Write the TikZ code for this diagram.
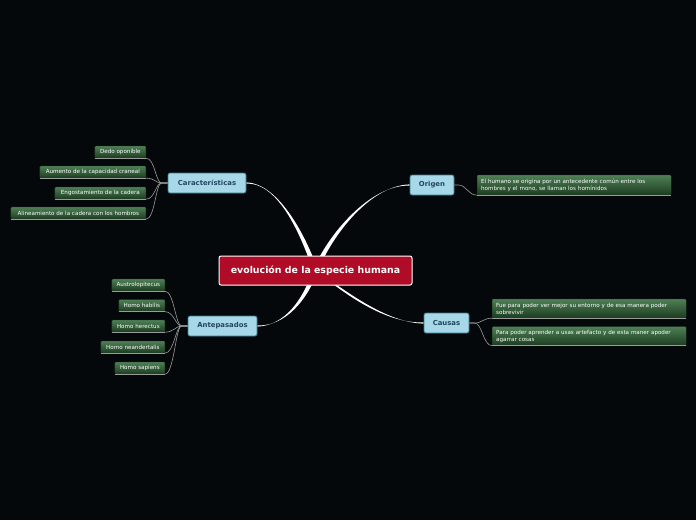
\documentclass[tikz,border=0pt]{standalone}
\usepackage{fontspec}
\setmainfont{DejaVu Sans}
\usetikzlibrary{calc}
\definecolor{bg}{HTML}{05080A}
\definecolor{rootred}{HTML}{B00C28}
\definecolor{topicblue}{HTML}{A6D8E8}
\definecolor{topicborder}{HTML}{3C7590}
\definecolor{topictext}{HTML}{24455F}
\definecolor{leaftop}{HTML}{4E8056}
\definecolor{leafbot}{HTML}{1C3C20}
\definecolor{connc}{HTML}{9A9A9A}
\tikzset{
  root/.style={draw=white, line width=1pt, fill=rootred, rounded corners=2pt, text=white,
    font=\bfseries\fontsize{9.4}{11}\selectfont, minimum width=193pt, minimum height=29pt, inner sep=0pt},
  topic/.style={draw=topicborder, line width=0.8pt, fill=topicblue, rounded corners=2pt, text=topictext,
    font=\bfseries\fontsize{6.9}{8}\selectfont, minimum height=20pt, inner sep=0pt},
  leaf/.style={top color=leaftop, bottom color=leafbot, draw=leafbot, line width=0.3pt, rounded corners=1pt, text=white,
    font=\fontsize{5.6}{7}\selectfont, minimum height=12pt, inner sep=0pt, align=left},
  conn/.style={draw=connc, line width=0.6pt},
  ul/.style={draw=connc, line width=1pt},
}
\begin{document}
\begin{tikzpicture}[x=1pt,y=-1pt]
\fill[bg] (0,0) rectangle (696,520);
\useasboundingbox (0,0) rectangle (696,520);

% invisible placement of main nodes (to get anchors)
\path
  node[root, draw=none, fill=none, text opacity=0] (root) at (315.5,270.5) {evolución de la especie humana}
  node[topic, draw=none, fill=none, text opacity=0, minimum width=78pt] (car) at (207,183) {Características}
  node[topic, draw=none, fill=none, text opacity=0, minimum width=44pt] (ori) at (432,185) {Origen}
  node[topic, draw=none, fill=none, text opacity=0, minimum width=69pt] (ant) at (222.5,326) {Antepasados}
  node[topic, draw=none, fill=none, text opacity=0, minimum width=45pt] (cau) at (446.5,323) {Causas};

% main branches (tapered)
\fill[white] ($(root.center)+(-2.5,0)$) .. controls (302.5,240) and (280,182.4) .. ([yshift=-0.6pt]car.east)
  -- ([yshift=0.6pt]car.east) .. controls (280,183.6) and (307.5,240) .. ($(root.center)+(2.5,0)$) -- cycle;
\fill[white] ($(root.center)+(-2.5,0)$) .. controls (327.5,235) and (370,184.4) .. ([yshift=-0.6pt]ori.west)
  -- ([yshift=0.6pt]ori.west) .. controls (370,185.6) and (332.5,235) .. ($(root.center)+(2.5,0)$) -- cycle;
\fill[white] ($(root.center)+(-2.5,0)$) .. controls (302.5,300) and (285,325.4) .. ([yshift=-0.6pt]ant.east)
  -- ([yshift=0.6pt]ant.east) .. controls (285,326.6) and (307.5,300) .. ($(root.center)+(2.5,0)$) -- cycle;
\fill[white] ($(root.center)+(-2,-1.5)$) .. controls (345,290) and (385,322.4) .. ([yshift=-0.6pt]cau.west)
  -- ([yshift=0.6pt]cau.west) .. controls (385,323.6) and (345,294) .. ($(root.center)+(2,1.5)$) -- cycle;

% visible main nodes on top
\node[root] at (root.center) {evolución de la especie humana};
\node[topic, minimum width=78pt] at (car.center) {Características};
\node[topic, minimum width=44pt] at (ori.center) {Origen};
\node[topic, minimum width=69pt] at (ant.center) {Antepasados};
\node[topic, minimum width=45pt] at (cau.center) {Causas};

% Características leaves
\node[leaf, anchor=east, minimum width=51pt] (c1) at (146,152) {Dedo oponible};
\node[leaf, anchor=east, minimum width=106pt] (c2) at (146,172) {Aumento de la capacidad craneal};
\node[leaf, anchor=east, minimum width=91pt] (c3) at (146,193) {Engostamiento de la cadera};
\node[leaf, anchor=east, minimum width=135pt] (c4) at (146,213) {Alineamiento de la cadera con los hombros};
\foreach \n in {c1,c2,c3,c4}{
  \draw[ul] (\n.south west) -- (\n.south east);
  \draw[conn] (\n.south east) .. controls +(9,0) and +(-6,0) .. ([xshift=-6pt]car.west) -- (car.west);
}

% Antepasados leaves
\node[leaf, anchor=east, minimum width=53pt] (a1) at (165,285) {Austrolopitecus};
\node[leaf, anchor=east, minimum width=46pt] (a2) at (165,305.5) {Homo habilis};
\node[leaf, anchor=east, minimum width=53pt] (a3) at (165,326) {Homo herectus};
\node[leaf, anchor=east, minimum width=64pt] (a4) at (165,347) {Homo neandertalis};
\node[leaf, anchor=east, minimum width=50pt] (a5) at (165,368) {Homo sapiens};
\foreach \n in {a1,a2,a3,a4,a5}{
  \draw[ul] (\n.south west) -- (\n.south east);
  \draw[conn] (\n.south east) .. controls +(9,0) and +(-6,0) .. ([xshift=-6pt]ant.west) -- (ant.west);
}

% Origen leaf
\node[leaf, anchor=west, minimum width=194pt, minimum height=20pt, text width=186pt, inner xsep=4pt] (o1) at (477,185)
  {El humano se origina por un antecedente común entre los\\hombres y el mono, se llaman los homínidos};
\draw[ul] (o1.south west) -- (o1.south east);
\draw[conn] (ori.east) -- ([xshift=4pt]ori.east) .. controls +(8,0) and +(-9,0) .. (o1.south west);

% Causas leaves
\node[leaf, anchor=west, minimum width=194pt, minimum height=19pt, text width=186pt, inner xsep=4pt] (k1) at (492,308.5)
  {Fue para poder ver mejor su entorno y de esa manera poder\\sobrevivir};
\node[leaf, anchor=west, minimum width=194pt, minimum height=19pt, text width=186pt, inner xsep=4pt] (k2) at (492,336)
  {Para poder aprender a usas artefacto y de esta maner apoder\\agarrar cosas};
\foreach \n in {k1,k2}{
  \draw[ul] (\n.south west) -- (\n.south east);
  \draw[conn] (cau.east) -- ([xshift=5pt]cau.east) .. controls +(8,0) and +(-9,0) .. (\n.south west);
}
\end{tikzpicture}
\end{document}
